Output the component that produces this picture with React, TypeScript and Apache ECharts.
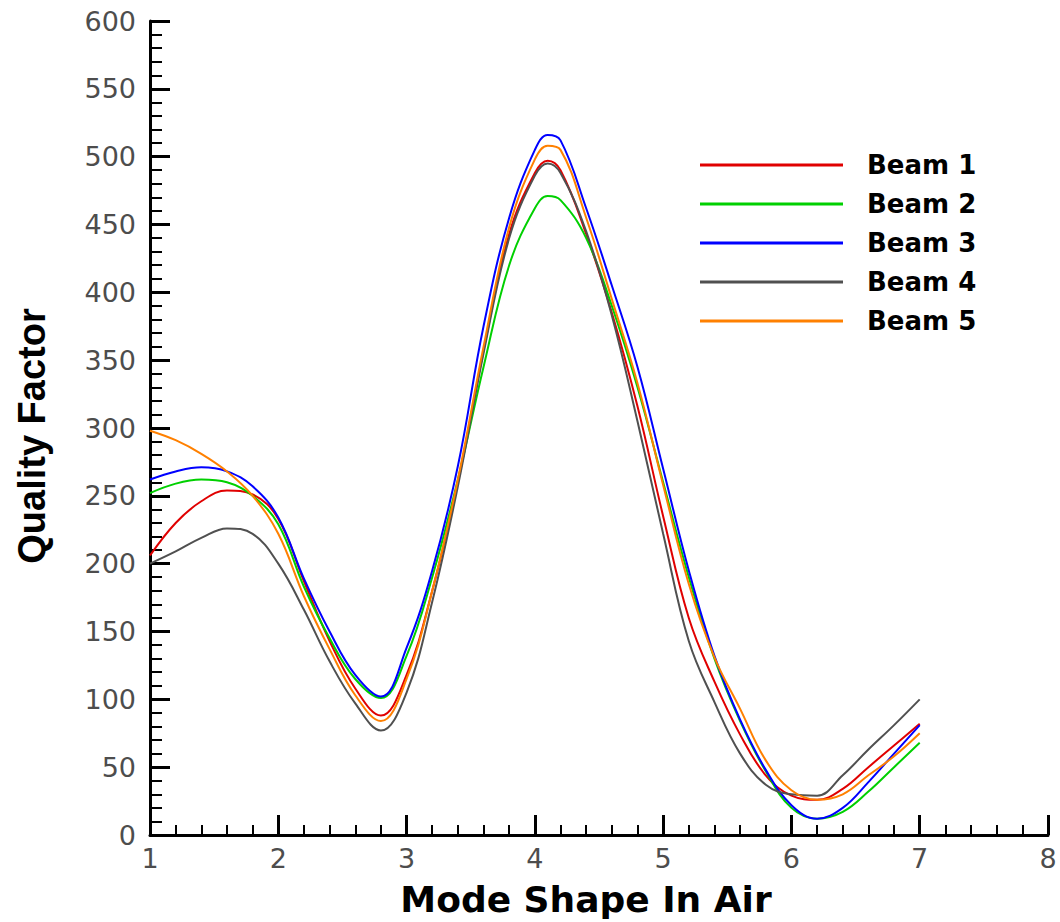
import React, { useEffect, useRef } from "react";
import * as echarts from "echarts";

const xValues = [1.0, 1.2, 1.4, 1.6, 1.8, 2.0, 2.2, 2.4, 2.6, 2.8, 3.0, 3.2, 3.4, 3.6, 3.8, 4.0, 4.1, 4.2, 4.4, 4.6, 4.8, 5.0, 5.2, 5.4, 5.6, 5.8, 6.0, 6.2, 6.4, 6.6, 6.8, 7.0];

const beam1 = [206, 230, 246, 254, 251, 233, 187, 143, 108, 88, 118, 180, 260, 357, 443, 488, 497, 490, 443, 385, 316, 235, 160, 113, 74, 44, 29, 26, 34, 50, 66, 82];
const beam2 = [252, 259, 262, 260, 250, 229, 183, 145, 115, 101, 132, 190, 262, 345, 420, 462, 471, 468, 440, 390, 330, 260, 190, 130, 84, 47, 20, 12, 17, 32, 50, 68];
const beam3 = [262, 268, 271, 268, 257, 234, 189, 150, 118, 102, 138, 195, 272, 375, 455, 505, 516, 512, 462, 405, 345, 270, 195, 132, 85, 48, 22, 12, 20, 39, 60, 81];
const beam4 = [200, 209, 219, 226, 222, 200, 166, 128, 97, 77, 105, 172, 257, 355, 440, 486, 495, 488, 445, 383, 305, 222, 143, 98, 60, 37, 30, 29, 44, 63, 81, 100];
const beam5 = [298, 291, 281, 268, 250, 222, 176, 137, 103, 84, 115, 180, 262, 360, 448, 498, 508, 505, 455, 395, 333, 258, 185, 131, 93, 55, 33, 26, 30, 44, 58, 75];

const seriesNames = ["Beam 1", "Beam 2", "Beam 3", "Beam 4", "Beam 5"];
const seriesColors = ["#e00000", "#00d000", "#0000ff", "#505050", "#ff8000"];
const seriesValues = [beam1, beam2, beam3, beam4, beam5];

export default function App() {
  const ref = useRef<HTMLDivElement>(null);
  useEffect(() => {
    document.body.style.margin = "0";
    if (!ref.current) return;
    const chart = echarts.init(ref.current, undefined, { renderer: "svg" });
    const series = seriesNames.map((name, i) => ({
      name,
      type: "line",
      data: xValues.map((x, j) => [x, seriesValues[i][j]]),
      smooth: 0.4,
      symbol: "none",
      lineStyle: { color: seriesColors[i], width: 2 },
      itemStyle: { color: seriesColors[i] },
    }));
    chart.setOption({
      animation: false,
      backgroundColor: "#ffffff",
      grid: { left: 150, top: 21, width: 898, height: 823, containLabel: false },
      legend: {
        orient: "vertical",
        left: 700,
        top: 152,
        padding: 0,
        itemWidth: 143,
        itemHeight: 3,
        itemGap: 13,
        icon: "rect",
        data: seriesNames,
        textStyle: {
          color: "#000",
          fontSize: 26,
          fontWeight: "bold",
          fontFamily: "DejaVu Sans",
          lineHeight: 26,
          padding: [0, 0, 0, 19],
        },
      },
      xAxis: {
        type: "value",
        min: 1,
        max: 8,
        interval: 1,
        axisLine: { show: true, lineStyle: { color: "#000", width: 3 } },
        axisTick: { show: true, inside: true, length: 20, lineStyle: { color: "#000", width: 3 } },
        minorTick: { show: true, splitNumber: 5, length: 10, lineStyle: { color: "#000", width: 2 } },
        splitLine: { show: false },
        axisLabel: { color: "#4d4d4d", fontSize: 27, fontFamily: "DejaVu Sans", margin: 10 },
        name: "Mode Shape In Air",
        nameLocation: "middle",
        nameGap: 46,
        nameTextStyle: {
          fontSize: 36,
          fontWeight: "bold",
          fontFamily: "DejaVu Sans",
          color: "#000",
          padding: [0, 26, 0, 0],
        },
      },
      yAxis: {
        type: "value",
        min: 0,
        max: 600,
        interval: 50,
        axisLine: { show: true, lineStyle: { color: "#000", width: 3 } },
        axisTick: { show: true, inside: true, length: 20, lineStyle: { color: "#000", width: 3 } },
        minorTick: { show: true, splitNumber: 5, length: 12, lineStyle: { color: "#000", width: 2 } },
        splitLine: { show: false },
        axisLabel: { color: "#4d4d4d", fontSize: 27, fontFamily: "DejaVu Sans", margin: 14 },
        name: "Quality Factor",
        nameLocation: "middle",
        nameGap: 99,
        nameRotate: 90,
        nameTextStyle: {
          fontSize: 38,
          fontWeight: "bold",
          fontFamily: "Liberation Sans",
          color: "#000",
          padding: [0, 16, 0, 0],
        },
      },
      series,
    });
    return () => chart.dispose();
  }, []);
  return <div ref={ref} style={{ width: 1060, height: 922 }} />;
}
